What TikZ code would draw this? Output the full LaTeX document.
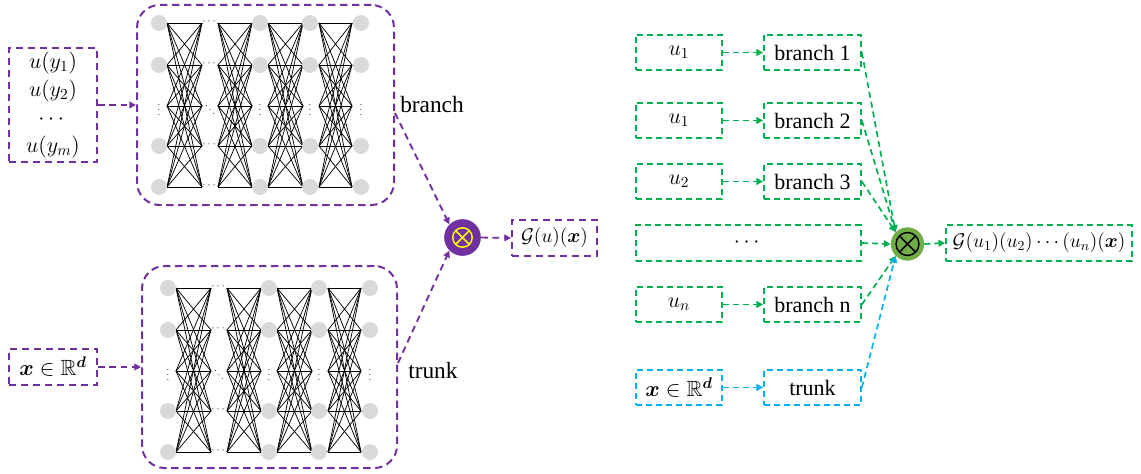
\RequirePackage{fix-cm}
\documentclass[tikz,border=0pt]{standalone}
\usepackage{amsmath,amssymb}
\usepackage{fontspec}
\setmainfont{Liberation Serif}
\usetikzlibrary{arrows.meta}

\definecolor{dpurple}{HTML}{7030A0}
\definecolor{dgreen}{HTML}{00B050}
\definecolor{dblue}{HTML}{00B0F0}
\definecolor{lgreen}{HTML}{70AD47}
\definecolor{ngray}{HTML}{D9D9D9}
\definecolor{dyellow}{HTML}{FFFF00}

\tikzset{
  pbox/.style={draw=dpurple, line width=1.5pt, dash pattern=on 5.5pt off 3.5pt,
    inner sep=0pt, font=\fontsize{16.5}{20}\selectfont},
  gbox/.style={draw=dgreen, line width=1.3pt, dash pattern=on 4.5pt off 3pt,
    inner sep=0pt, minimum height=26.5pt, font=\fontsize{16.5}{20}\selectfont},
  bbox/.style={gbox, draw=dblue},
  outfont/.style={font=\fontsize{14.8}{18}\selectfont},
  netbox/.style={pbox, rounded corners=17pt},
  parrow/.style={draw=dpurple, line width=1.4pt, dash pattern=on 5pt off 3.5pt,
    -{Triangle[length=5pt,width=5pt]}},
  garrow/.style={draw=dgreen, line width=1.25pt, dash pattern=on 4.5pt off 3pt,
    -{Triangle[length=5pt,width=5pt]}},
  barrow/.style={garrow, draw=dblue},
  neuron/.style={circle, fill=ngray, minimum size=12pt, inner sep=0pt},
  lbl/.style={font=\fontsize{17.5}{21}\selectfont, inner sep=0pt},
  ndots/.style={inner sep=0pt, font=\fontsize{6.5}{8}\selectfont},
}

% fully connected network: four dense layers, with an elision between the first two
\newcommand{\densenet}{%
  \foreach \xa/\xb in {167/202, 218/252, 268/303, 319/352}{
    \foreach \ya in {23,65,106,146,187}{
      \foreach \yb in {23,65,106,146,187}{
        \draw[line width=0.55pt] (\xa,\ya) -- (\xb,\yb);
      }
    }
  }
  \foreach \xc in {159,260,310,361}{
    \foreach \yc in {23,65,146,187}{
      \node[neuron] at (\xc,\yc) {};
    }
    \node[ndots] at (\xc,106) {$\vdots$};
  }
  \foreach \yc in {23,65,146,187}{
    \node[ndots] at (210,\yc-2) {$\cdots$};
  }
  \node[ndots] at (210,106) {$\ddots$};
}

\begin{document}
\begin{tikzpicture}[x=0.75pt, y=-0.75pt]
\useasboundingbox (0,0) rectangle (1141,474);

% ---------------- left: single-input operator network ----------------
\node[pbox, minimum width=66pt, minimum height=85.5pt, align=center,
      execute at begin node={\setlength{\baselineskip}{21pt}}] (uin) at (53,105)
  {$u(y_1)$\\ $u(y_2)$\\ $\cdots$\\ $u(y_m)$};
\node[pbox, minimum width=66pt, minimum height=27pt] (xin) at (53,367)
  {$\boldsymbol{x}\in\mathbb{R}^{\boldsymbol{d}}$};

\node[netbox, minimum width=192.75pt, minimum height=150pt] (brbox) at (265.5,105) {};
\node[netbox, minimum width=191.25pt, minimum height=151.5pt] (trbox) at (269.5,367) {};

\densenet
\begin{scope}[shift={(9,265)}]
  \densenet
\end{scope}

\node[lbl, anchor=base west] (brlbl) at (400,113) {branch};
\node[lbl, anchor=base west] (trlbl) at (408,378) {trunk};

\node[circle, fill=dpurple, minimum size=27.5pt, inner sep=0pt] (mulL) at (462.5,237.5) {};
\draw[dyellow, line width=1.1pt] (mulL.center) circle (7.3pt);
\draw[dyellow, line width=1.1pt] ([shift={(-5.2pt,-5.2pt)}]mulL.center) -- ([shift={(5.2pt,5.2pt)}]mulL.center)
  ([shift={(-5.2pt,5.2pt)}]mulL.center) -- ([shift={(5.2pt,-5.2pt)}]mulL.center);

\node[pbox, outfont, minimum width=63.75pt, minimum height=27pt] (gout) at (554.5,238)
  {$\mathcal{G}(u)(\boldsymbol{x})$};

\draw[parrow] (uin.east) -- (brbox.west);
\draw[parrow] (xin.east) -- (trbox.west);
\draw[parrow] ([yshift=-6pt]brbox.east) -- (mulL.north west);
\draw[parrow] ([yshift=3pt]trbox.east) -- (mulL.south west);
\draw[parrow] (mulL.east) -- (gout.west);

% ---------------- right: multiple-input operator network ----------------
\node[gbox, minimum width=64.5pt] (u1a) at (679,52.5) {$u_1$};
\node[gbox, minimum width=64.5pt] (u1b) at (679,120.5) {$u_1$};
\node[gbox, minimum width=64.5pt] (u2)  at (679,181.5) {$u_2$};
\node[gbox, minimum width=168.75pt] (udots) at (748.5,243) {$\cdots$};
\node[gbox, minimum width=64.5pt] (un)  at (679,304.5) {$u_n$};
\node[bbox, minimum width=64.5pt] (xr)  at (679,387.5) {$\boldsymbol{x}\in\mathbb{R}^{\boldsymbol{d}}$};

\node[gbox, minimum width=72.75pt] (b1) at (812.5,52.5) {branch 1};
\node[gbox, minimum width=72.75pt] (b2) at (812.5,120.5) {branch 2};
\node[gbox, minimum width=72.75pt] (b3) at (812.5,181.5) {branch 3};
\node[gbox, minimum width=72.75pt] (bn) at (812.5,304.5) {branch n};
\node[bbox, minimum width=72.75pt] (tr) at (812.5,387.5) {trunk};

\node[circle, fill=lgreen, minimum size=25pt, inner sep=0pt] (mulR) at (907.5,244) {};
\draw[black, line width=1.1pt] (mulR.center) circle (8.6pt);
\draw[black, line width=1.1pt] ([shift={(-6.1pt,-6.1pt)}]mulR.center) -- ([shift={(6.1pt,6.1pt)}]mulR.center)
  ([shift={(-6.1pt,6.1pt)}]mulR.center) -- ([shift={(6.1pt,-6.1pt)}]mulR.center);

\node[gbox, outfont, minimum width=139.5pt] (gout2) at (1039,243)
  {$\mathcal{G}(u_1)(u_2)\cdots(u_n)(\boldsymbol{x})$};

\draw[garrow] (u1a.east) -- (b1.west);
\draw[garrow] (u1b.east) -- (b2.west);
\draw[garrow] (u2.east) -- (b3.west);
\draw[garrow] (un.east) -- (bn.west);
\draw[barrow] (xr.east) -- (tr.west);

\draw[garrow] (b1.east) -- (mulR.north west);
\draw[garrow] (b2.east) -- (mulR.north west);
\draw[garrow] (b3.east) -- (mulR.north west);
\draw[garrow] (udots.east) -- (mulR.west);
\draw[garrow] (bn.east) -- (mulR.south west);
\draw[barrow] (tr.east) -- (mulR.south west);
\draw[garrow] (mulR.east) -- (gout2.west);
\end{tikzpicture}
\end{document}
